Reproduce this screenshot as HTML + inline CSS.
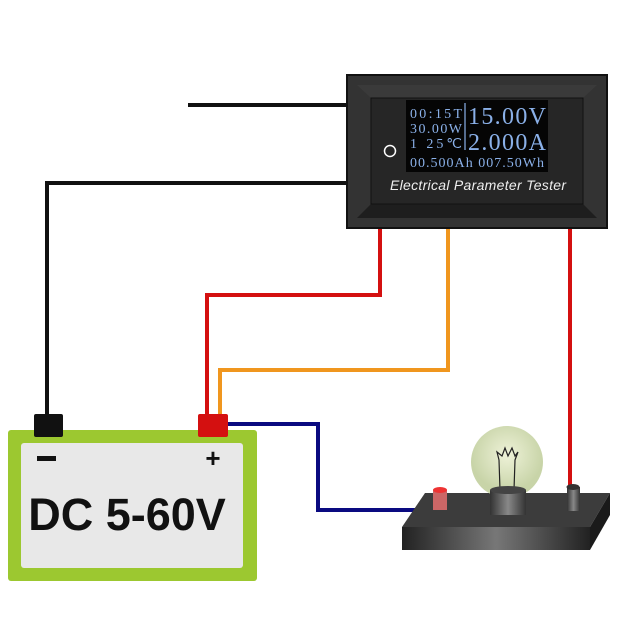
<!DOCTYPE html><html><head><style>body{margin:0;background:#fff}svg{display:block}</style></head><body>
<svg width="637" height="637" viewBox="0 0 637 637" xmlns="http://www.w3.org/2000/svg">
<defs>
<linearGradient id="fr" x1="0" x2="1"><stop offset="0" stop-color="#222"/><stop offset=".5" stop-color="#777"/><stop offset="1" stop-color="#222"/></linearGradient>
<linearGradient id="cy" x1="0" x2="1"><stop offset="0" stop-color="#333"/><stop offset=".5" stop-color="#888"/><stop offset="1" stop-color="#333"/></linearGradient>
<radialGradient id="bl" cx=".5" cy=".4"><stop offset="0" stop-color="#eef2d8"/><stop offset="1" stop-color="#c8d4a8"/></radialGradient>
</defs>
<g fill="none" stroke-width="4">
<path d="M188 105H347" stroke="#111"/>
<path d="M347 183H47V415" stroke="#111"/>
<path d="M380 228V295H207V418" stroke="#d41010"/>
<path d="M448 228V370H220V418" stroke="#f0961e"/>
<path d="M570 228V508H578" stroke="#d41010"/>
<path d="M225 424H318V510H433" stroke="#0a0a80"/>
</g>
<rect x="347" y="75" width="260" height="153" fill="#333" stroke="#111" stroke-width="2"/>
<polygon points="357,85 597,85 583,98 371,98" fill="#3a3a3a"/>
<polygon points="357,218 597,218 583,204 371,204" fill="#1e1e1e"/>
<rect x="371" y="98" width="212" height="106" fill="#262626" stroke="#111"/>
<rect x="406" y="100" width="142" height="72" fill="#050505"/>
<line x1="465" y1="103" x2="465" y2="150" stroke="#8ab0e8" stroke-width="1.2"/>
<g fill="#8ab0e8" font-family="Liberation Serif,serif">
<text x="410" y="118" font-size="14" textLength="52">00:15T</text>
<text x="410" y="133" font-size="14" textLength="52">30.00W</text>
<text x="410" y="148" font-size="14" textLength="52">1  25℃</text>
<text x="468" y="124" font-size="24" textLength="78">15.00V</text>
<text x="468" y="150" font-size="24" textLength="78">2.000A</text>
<text x="410" y="167" font-size="14" textLength="134">00.500Ah 007.50Wh</text>
</g>
<circle cx="390" cy="151" r="5.5" fill="none" stroke="#fff" stroke-width="1.5"/>
<text x="478" y="190" text-anchor="middle" fill="#eee" font-family="Liberation Sans,sans-serif" font-style="italic" font-size="14" textLength="176">Electrical Parameter Tester</text>
<rect x="8" y="430" width="249" height="151" rx="3" fill="#9cc830"/>
<rect x="21" y="443" width="222" height="125" rx="3" fill="#e8e8e8"/>
<rect x="34" y="414" width="29" height="23" rx="2" fill="#111"/>
<rect x="198" y="414" width="30" height="23" rx="2" fill="#d41010"/>
<rect x="37" y="456" width="19" height="5" fill="#111"/>
<text x="213" y="467" text-anchor="middle" font-family="Liberation Sans,sans-serif" font-weight="bold" font-size="26" fill="#111">+</text>
<text x="127" y="530" text-anchor="middle" font-family="Liberation Sans,sans-serif" font-weight="bold" font-size="45" fill="#111">DC 5-60V</text>
<polygon points="425,493 610,493 590,527 402,527" fill="#3c3c3c"/>
<polygon points="590,527 610,493 610,515 590,550" fill="#1a1a1a"/>
<rect x="402" y="527" width="188" height="23" fill="url(#fr)"/>
<circle cx="507" cy="462" r="36" fill="url(#bl)"/>
<path d="M500 490 L499 460 L497 452 L502 456 L505 448 L508 456 L512 448 L515 456 L518 452 L515 460 L514 490" fill="none" stroke="#222" stroke-width="1.2"/>
<rect x="490" y="490" width="36" height="25" fill="url(#cy)"/>
<ellipse cx="508" cy="490" rx="18" ry="4" fill="#444"/>
<rect x="433" y="490" width="14" height="20" fill="#c66"/>
<ellipse cx="440" cy="490" rx="7" ry="3" fill="#e33"/>
<rect x="567" y="487" width="13" height="24" fill="url(#cy)"/>
<ellipse cx="573" cy="487" rx="6.5" ry="3" fill="#333"/>
</svg>
</body></html>
